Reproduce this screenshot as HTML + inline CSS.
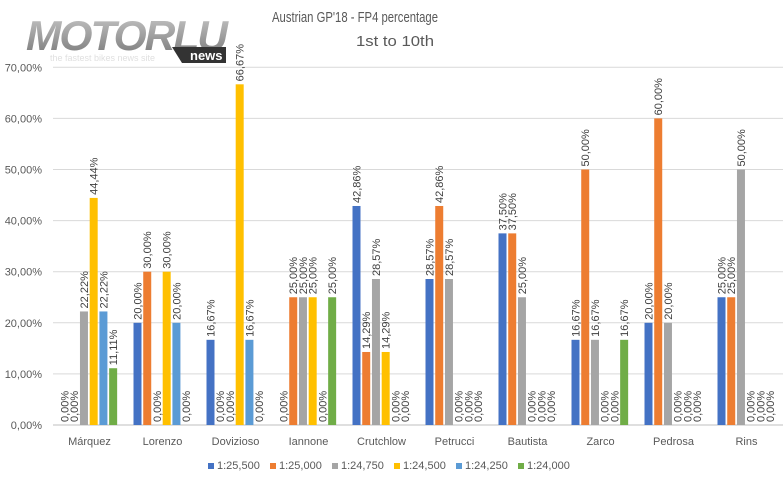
<!DOCTYPE html>
<html><head><meta charset="utf-8"><style>body{margin:0;background:#fff}svg{display:block}</style></head><body>
<svg id="s" width="783" height="481" xmlns="http://www.w3.org/2000/svg" font-family="Liberation Sans, sans-serif">
<defs><linearGradient id="lg" x1="0" y1="0" x2="0" y2="1"><stop offset="0" stop-color="#c8c8c8"/><stop offset="1" stop-color="#777"/></linearGradient></defs>
<rect width="783" height="481" fill="#fff"/>
<text x="26" y="50" font-size="42" font-weight="bold" font-style="italic" fill="url(#lg)" letter-spacing="-2" textLength="200" lengthAdjust="spacingAndGlyphs">MOTORLU</text>
<text x="50" y="61" font-size="9" fill="#e0e0e0">the fastest bikes news site</text>
<polygon points="172,47 226,47 226,63 182,63" fill="#333"/>
<text x="190" y="60" font-size="13" font-weight="bold" fill="#fff">news</text>
<text x="355" y="22" font-size="15" fill="#595959" text-anchor="middle" textLength="166" lengthAdjust="spacingAndGlyphs">Austrian GP'18 - FP4 percentage</text>
<text x="395" y="46" font-size="15" fill="#595959" text-anchor="middle" textLength="78" lengthAdjust="spacingAndGlyphs">1st to 10th</text>
<g id="g"></g>
</svg>
<script>
const s=document.getElementById('g'),ns='http://www.w3.org/2000/svg';
function el(t,a,txt){const e=document.createElementNS(ns,t);for(const k in a)e.setAttribute(k,a[k]);if(txt!==undefined)e.textContent=txt;s.appendChild(e);return e;}
const y0=425,u=5.11;
for(let i=0;i<=7;i++){const y=y0-i*51.1;el('line',{x1:53,x2:783,y1:y,y2:y,stroke:i==0?'#bfbfbf':'#d9d9d9','stroke-width':1});
el('text',{x:42,y:y+4,'font-size':11,fill:'#595959','text-anchor':'end'},(i*10)+',00%');}
const cols=['#4472C4','#ED7D31','#A5A5A5','#FFC000','#5B9BD5','#70AD47'];
const names=['Márquez','Lorenzo','Dovizioso','Iannone','Crutchlow','Petrucci','Bautista','Zarco','Pedrosa','Rins'];
const d=[[0,0,22.22,44.44,22.22,11.11],[20,30,0,30,20,0],[16.67,0,0,66.67,16.67,0],[0,25,25,25,0,25],[42.86,14.29,28.57,14.29,0,0],[28.57,42.86,28.57,0,0,0],[37.5,37.5,25,0,0,0],[16.67,50,16.67,0,0,16.67],[20,60,20,0,0,0],[25,25,50,0,0,0]];
d.forEach((r,c)=>{const gx=53+73*c;
el('text',{x:gx+36.5,y:445,'font-size':11,fill:'#595959','text-anchor':'middle'},names[c]);
r.forEach((v,i)=>{const x=gx+7.5+i*9.73,h=v*u,top=y0-h;
if(h>0)el('rect',{x:x,y:top,width:8,height:h,fill:cols[i]});
const cx=x+4+4,ty=top-3;
el('text',{x:cx,y:ty,'font-size':11,fill:'#404040',transform:`rotate(-90 ${cx} ${ty})`},v.toFixed(2).replace('.',',')+'%');});});
const lg=['1:25,500','1:25,000','1:24,750','1:24,500','1:24,250','1:24,000'];
lg.forEach((t,i)=>{const x=208+i*62;el('rect',{x:x,y:463,width:6,height:6,fill:cols[i]});
el('text',{x:x+9,y:469,'font-size':11,fill:'#595959'},t);});
</script>
</body></html>
